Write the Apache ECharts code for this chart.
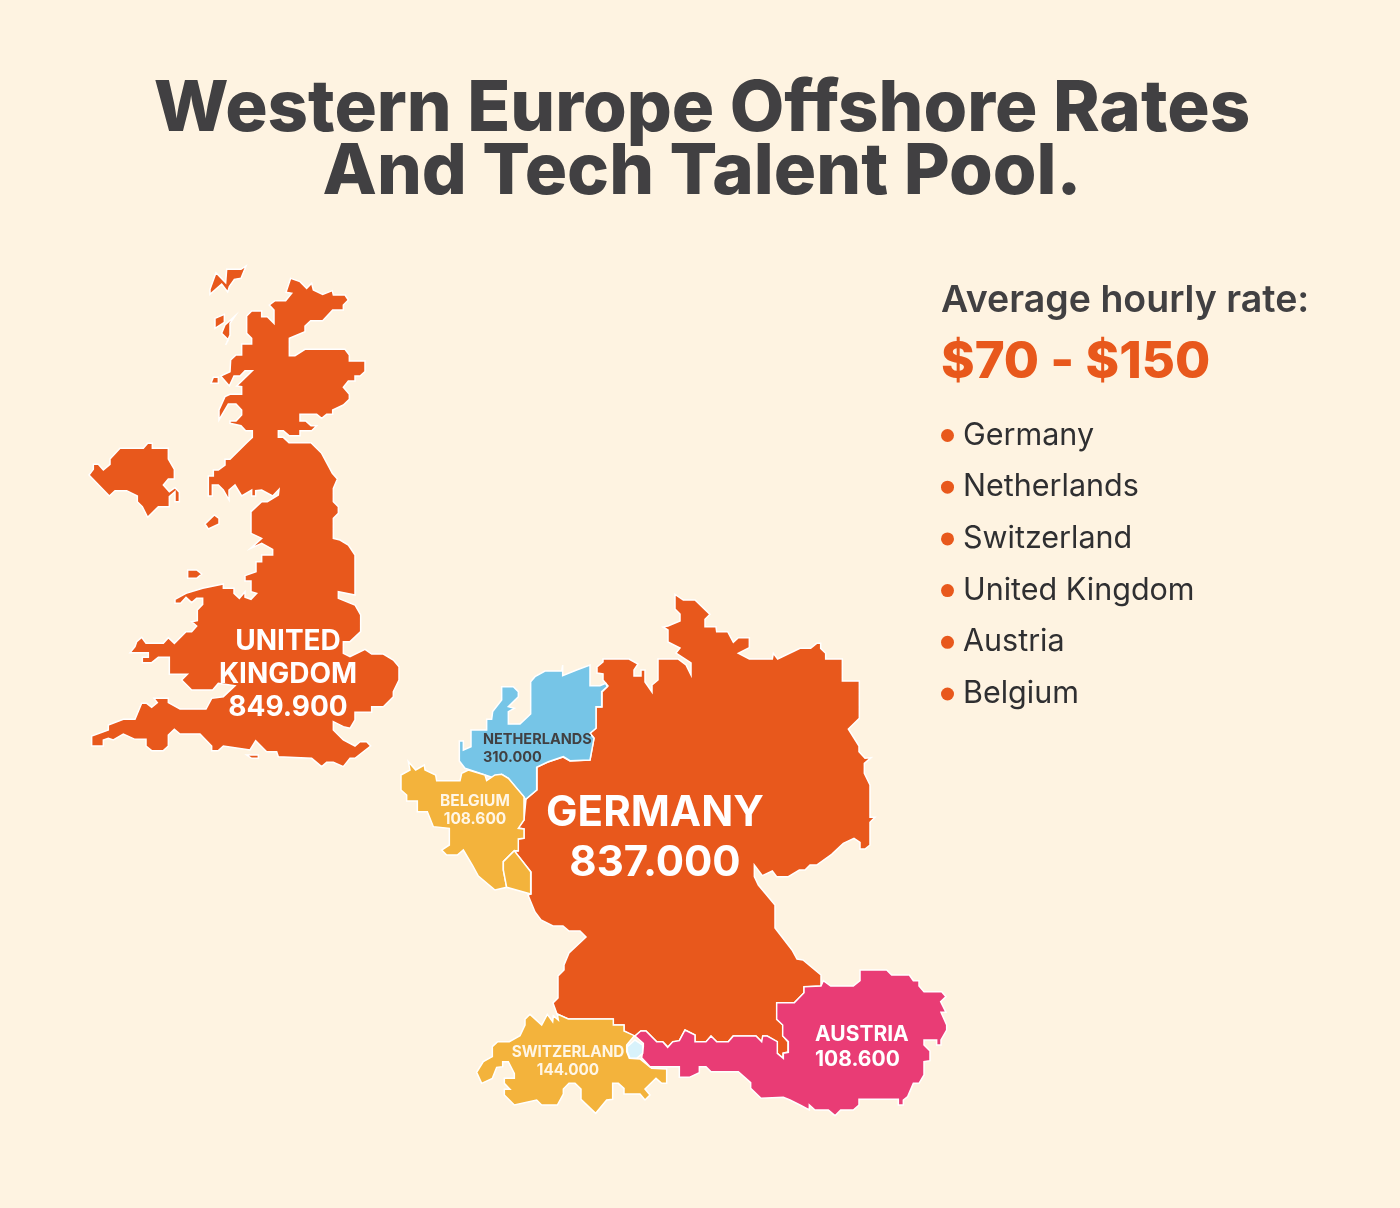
<![CDATA[<!DOCTYPE html>
<html><head><meta charset="utf-8">
<style>html,body{margin:0;padding:0;background:#fef3e1}#c{width:1400px;height:1208px}</style>
<script src="https://cdn.jsdelivr.net/npm/echarts@6/dist/echarts.min.js"></script>
</head><body><div id="c"></div>
<script>
// Outlines were read off the picture at 3x: each list has an origin and flat x,y pairs in 1/3 pixel
const ukOriginA=[80,260], ukOriginB=[80,510];
const ukNorth=[632,55,660,65,680,85,695,70,700,90,728,103,757,92,760,105,795,105,805,120,790,135,790,150,758,150,728,182,692,182,675,198,675,215,628,235,628,287,645,287,675,268,795,268,808,285,808,303,855,303,855,335,840,348,825,348,825,363,805,363,790,382,808,403,808,418,790,435,758,450,758,463,740,463,725,475,710,463,660,463,660,483,677,483,693,497,710,497,695,512,660,512,660,527,627,527,610,512,595,512,595,532,610,532,627,548,693,548,725,580,757,640,772,657,760,685,760,725,775,740,775,760,760,775];
const ukSouth=[760,85,780,90,805,105,825,135,825,255,775,245,775,265,825,285,842,315,842,365,810,395,790,395,790,430,810,440,855,418,875,432,910,432,940,450,957,470,957,510,940,545,940,560,910,590,875,590,875,607,825,607,825,630,810,655,790,650,760,635,760,660,790,690,825,708,840,695,860,695,872,708,825,745,810,745,790,770,760,757,740,757,725,770,695,745,595,740,590,725,560,725,527,692,510,720,430,708,415,722,395,722,395,708,360,672,300,672,283,658,265,675,265,708,250,722,215,722,198,708,198,688,165,688,130,672,100,690,85,685,70,690,70,708,35,708,35,678,85,660,85,645,130,628,165,628,185,580,200,580,215,592,232,578,222,565,265,565,265,578,300,597,378,597,395,565,430,560,465,527,415,520,398,540,335,540,305,510,322,493,268,493,268,442,235,442,215,458,187,458,187,442,205,442,205,428,150,428,165,410,170,395,185,382,198,400,250,400,265,383,283,400,318,365,335,365,350,348,335,335,352,332,352,300,368,283,368,265,350,265,335,278,318,262,302,280,285,280,285,268,318,250,368,235,430,222,430,235,462,235,462,250,478,265,495,245,495,262,513,268,530,250,513,245,513,213,495,213,495,197,528,185,528,155,545,155,545,135,578,135,578,118,545,100,512,115,545,85,513,70,513,0];
const ukWest=[513,755,545,725,562,725,595,705,597,688,578,708,545,690,527,692,527,708,515,708,515,690,485,708,465,675,447,690,447,720,430,690,415,675,397,675,397,708,385,708,385,648,400,648,400,630,415,630,435,615,435,598,450,598,500,548,517,532,517,512,497,512,483,497,450,490,450,483,468,483,485,465,485,450,468,432,445,432,417,480,417,450,435,410,450,403,485,403,485,380,470,378,517,332,495,332,480,348,462,348,448,378,422,348,450,335,452,300,468,285,485,285,485,252,515,252,515,235,500,220,500,168,515,153,545,153,545,170,562,170,582,190,582,150,568,135,585,122,617,122,635,100,618,97];
const ukIsleTop=[408,38,437,68,440,28,483,28,498,18,483,55,463,58,448,80,443,96,425,72,390,103,390,88];
const ukIsleMid1=[405,175,433,163,433,187,405,205];
const ukIsleMid2=[465,168,450,190,450,225,437,255,445,240,425,220,435,195];
const ukIsleWest=[400,352,415,352,415,370,393,370];
const ireland=[40,613,55,613,70,630,90,613,90,597,120,565,190,565,203,550,217,550,217,565,265,565,265,597,283,628,283,657,265,657,250,675,268,695,285,683,298,697,298,725,285,725,285,695,268,710,268,740,235,740,203,772,187,740,172,725,172,708,140,692,105,692,88,708,27,645,40,628];
const ukIsleS1=[375,42,403,15,417,25,417,42,385,57];
const ukIsleS2=[323,180,350,180,365,192,350,205,323,205];
const ukIsleS3=[500,735,535,735,535,745,515,745];

const beneluxOrigin=[395,640];
const netherlandsLine=[320,140,355,140,370,155,370,170,340,200,358,205,340,215,340,252,375,252,407,222,407,125,420,110,450,93,500,93,503,75,503,107,545,90,585,75,585,137,615,137,632,130,637,140,620,155,620,200,603,200,603,265,585,280,597,295,585,360,525,362,505,350,460,365,425,382,425,450,392,478,340,415,320,403,300,415,270,405,210,385,193,363,193,303,205,303,205,330,228,320,228,270,275,270,275,238,290,238,293,215,320,180];
const belgiumLine=[18,405,45,390,40,365,62,390,88,375,90,390,122,405,125,422,195,422,200,400,220,390,270,405,275,422,300,405,320,403,340,415,387,470,387,540,370,565,387,567,387,595,370,597,370,632,358,632,325,665,325,690,335,742,300,750,250,708,232,675,205,630,187,645,155,645,140,630,163,615,163,565,115,560,97,515,67,515,67,483,35,483,35,465,18,450];
const luxembourgLine=[358,632,372,650,407,695,407,762,335,742,325,690,325,665];

const germanyOrigin=[510,585];
const germanyEast=[495,28,520,45,555,45,600,88,585,103,585,125,618,125,620,140,653,140,670,172,685,158,718,158,718,188,685,205,718,222,787,222,790,205,803,222,870,190,902,190,920,175,932,175,932,190,947,205,947,222,997,222,997,288,1048,288,1048,400,1015,432,1047,483,1047,500,1065,520,1083,518,1063,535,1063,565,1080,600,1080,697,1095,697,1080,712,1080,780,1065,792,1050,792,1050,772,1032,760,1000,775,965,808,920,840,900,840,885,855,868,855,835,875,800,875,787,858,757,872,733,840,733,875,745,900];
// in whole pixels
const germanyRest=[775,905,775,928,792,950,797,959,803,960,821,975,821,986,804,987,804,993,794,1003,777,1003,777,1019,783,1025,783,1036,788,1042,788,1052,783,1053,783,1058,777,1053,777,1042,767,1036,763,1036,762,1042,756,1036,733,1036,728,1042,717,1042,711,1036,706,1042,695,1042,695,1035,685,1030,679,1041,673,1042,668,1047,663,1042,657,1042,646,1031,641,1031,635,1036,633,1036,624,1031,624,1025,613,1025,613,1019,568,1019,557,1014,553,1003,558,998,558,976,564,970,564,965,569,953,586,937,580,931,569,931,563,926,553,926,541,920,535,912,528,895,531,894,531,872,519,857,514,851,518,851,518,839,524,838,524,829,518,828,524,820,526,799,537,790,537,767,548,762,563,757,570,761,590,760,594,738,590,733,596,728,596,707,602,707,602,692,608,686,603,680,603,674,597,673,597,667,603,662,603,659,629,659,638,664,634,670,634,676,641,676,641,670,645,670,645,682,652,692,652,685,658,680,658,659,678,659,686,665,691,675,691,663,676,653,680,648,668,642,668,630,663,627,668,626,680,621,680,614,675,609];

const alpsOriginW=[470,870], alpsOriginE=[620,950];
const switzerlandLine=[180,433,215,465,232,433,248,455,250,437,265,450,262,432,295,447,430,447,430,465,462,465,462,483,493,497,470,525,470,545,478,565,510,567,545,595,590,597,590,640,575,640,558,625,525,657,540,675,525,690,510,672,462,672,462,655,445,640,428,640,428,688,410,690,377,730,333,688,333,657,315,640,297,640,280,657,280,672,262,705,215,705,200,690,133,705,103,675,103,658,120,658,103,640,103,625,133,625,133,610,115,575,98,575,98,590,80,592,67,625,35,640,20,607,40,575,67,560,67,530,83,515,118,515,150,497,165,465,165,448];
const austriaLine=[62,243,78,243,110,275,128,275,143,292,158,275,178,272,195,240,225,255,225,275,258,275,273,258,290,275,325,275,340,258,408,258,425,275,428,258,442,258,472,275,472,310,490,325,490,310,505,307,505,275,488,258,488,225,470,208,470,158,523,158,552,128,552,110,603,108,610,92,632,108,700,108,720,92,720,60,800,60,815,75,868,75,880,92,897,92,897,108,912,125,965,125,978,140,962,155,978,187,963,187,980,225,980,240,963,270,963,285,950,285,950,270,912,270,912,285,930,303,930,332,912,335,912,375,897,400,880,400,863,440,850,450,850,465,835,465,835,448,717,448,717,465,700,480,662,480,645,497,625,480,585,480,568,465,568,480,540,465,510,450,490,442,423,445,392,415,392,398,355,365,273,365,258,350,238,350,238,368,208,382,178,382,178,350,90,350,65,323,70,290,70,280,45,258];
const liechtensteinLine=[22,290,45,270,68,285,68,310,50,325,30,325,22,305];

const regionNames=['United Kingdom','Germany','Netherlands','Belgium','Luxembourg','Switzerland','Austria','Liechtenstein'];
const regionColors=['#e8581c','#e8581c','#76c5e7','#f3b33c','#f3b33c','#f3b33c','#e93c75','#d8f2fb'];
const labelTexts=['UNITED\nKINGDOM\n849.900','GERMANY\n837.000','NETHERLANDS\n310.000','BELGIUM\n108.600','SWITZERLAND\n144.000','AUSTRIA\n108.600'];
const labelAnchors=[[288,675],[655,838],[483,749],[475,810],[568,1061],[815,1047]];
const labelSizes=[28,42,14.5,15.5,15.3,21];
const labelLines=[33,50,18,18,18,25];
const labelAligns=['center','center','left','center','center','left'];
const labelColors=['#fff','#fff','#414042','#fff6e6','#fff6e6','#fff'];
const legendNames=['Germany','Netherlands','Switzerland','United Kingdom','Austria','Belgium'];
const titleText='Western Europe Offshore Rates\nAnd Tech Talent Pool.';
const rateLabel='Average hourly rate:';
const rateRange='$70 - $150';

function ring(origin,flat,scale){const out=[];for(let i=0;i<flat.length;i+=2){out.push([origin[0]+flat[i]/scale,1208-(origin[1]+flat[i+1]/scale)]);}if(out[0][0]!==out[out.length-1][0]||out[0][1]!==out[out.length-1][1])out.push(out[0].slice());return out;}
function open(origin,flat,scale){const r=ring(origin,flat,scale);r.pop();return r;}
const ukMain=open(ukOriginA,ukNorth,3).concat(open(ukOriginB,ukSouth,3),open(ukOriginA,ukWest,3));ukMain.push(ukMain[0].slice());
const geLine=open(germanyOrigin,germanyEast,3).concat(open([0,0],germanyRest,1));geLine.push(geLine[0].slice());
const shapes={
 'United Kingdom':[ukMain,ring(ukOriginA,ukIsleTop,3),ring(ukOriginA,ukIsleMid1,3),ring(ukOriginA,ukIsleMid2,3),ring(ukOriginA,ukIsleWest,3),ring(ukOriginA,ireland,3),ring(ukOriginB,ukIsleS1,3),ring(ukOriginB,ukIsleS2,3),ring(ukOriginB,ukIsleS3,3)],
 'Germany':[geLine],
 'Netherlands':[ring(beneluxOrigin,netherlandsLine,3)],
 'Belgium':[ring(beneluxOrigin,belgiumLine,3)],
 'Luxembourg':[ring(beneluxOrigin,luxembourgLine,3)],
 'Switzerland':[ring(alpsOriginW,switzerlandLine,3)],
 'Austria':[ring(alpsOriginE,austriaLine,3)],
 'Liechtenstein':[ring(alpsOriginE,liechtensteinLine,3)]
};
const geoJson={type:'FeatureCollection',features:regionNames.map(n=>({type:'Feature',properties:{name:n},geometry:{type:'MultiPolygon',coordinates:shapes[n].map(r=>[r])}}))};
echarts.registerMap('westEurope',geoJson);
const FONT='Inter';
const chart=echarts.init(document.getElementById('c'),null,{renderer:'canvas'});
chart.setOption({
 animation:false,backgroundColor:'#fef3e1',
 title:[
  {text:titleText,left:702,top:78,padding:0,textAlign:'center',textStyle:{fontFamily:FONT,fontWeight:800,fontSize:70.7,lineHeight:63,color:'#414042'}},
  {text:rateLabel,left:941,top:282,padding:0,textStyle:{fontFamily:FONT,fontWeight:600,fontSize:37.5,color:'#414042'}},
  {text:rateRange,left:941,top:337,padding:0,textStyle:{fontFamily:FONT,fontWeight:800,fontSize:51,color:'#e8581c'}}
 ],
 legend:{orient:'vertical',left:941,top:420,padding:0,icon:'circle',itemWidth:13,itemHeight:13,itemGap:20.7,selectedMode:false,data:legendNames,
  textStyle:{fontFamily:FONT,fontSize:30.5,lineHeight:30,color:'#2f2f31',padding:[0,0,0,4]}},
 geo:{map:'westEurope',left:0,top:0,width:1400,height:1208,aspectScale:1,boundingCoords:[[0,1208],[1400,0]],silent:true,roam:false,
  itemStyle:{borderColor:'#fff',borderWidth:1.5},label:{show:false},
  regions:regionNames.map((n,i)=>({name:n,itemStyle:{areaColor:regionColors[i]}}))},
 series:[
  {type:'scatter',coordinateSystem:'geo',name:'labels',symbolSize:0,silent:true,z:5,itemStyle:{opacity:1},
   data:labelTexts.map((t,i)=>({value:[labelAnchors[i][0],1208-labelAnchors[i][1]],
    label:{show:true,opacity:1,position:'inside',formatter:t,fontFamily:FONT,fontWeight:700,fontSize:labelSizes[i],lineHeight:labelLines[i],align:labelAligns[i],verticalAlign:'middle',color:labelColors[i]}}))}
 ].concat(legendNames.map(n=>({type:'scatter',coordinateSystem:'geo',name:n,data:[],itemStyle:{color:'#e8581c',opacity:1}})))
});
</script></body></html>]]>
